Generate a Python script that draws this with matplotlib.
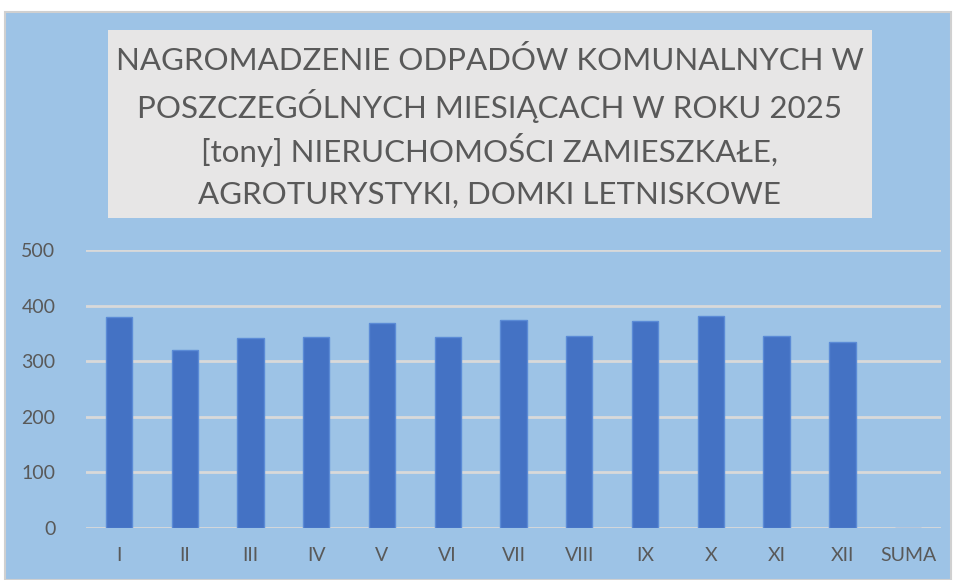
import matplotlib.pyplot as plt
from matplotlib.patches import Rectangle

miesiace = ["I", "II", "III", "IV", "V", "VI", "VII", "VIII", "IX", "X", "XI", "XII", "SUMA"]
odpady = [379, 321, 342, 344, 368, 344, 375, 346, 372, 381, 346, 335, 0]
tytul = ["NAGROMADZENIE ODPADÓW KOMUNALNYCH W",
         "POSZCZEGÓLNYCH MIESIĄCACH W ROKU 2025",
         "[tony] NIERUCHOMOŚCI ZAMIESZKAŁE,",
         "AGROTURYSTYKI, DOMKI LETNISKOWE"]

W, H = 957, 580
plt.rcParams['font.family'] = ['Lato', 'DejaVu Sans']
fig = plt.figure(figsize=(W / 100, H / 100), dpi=100)
fig.patch.set_facecolor("white")

# tlo wykresu z ramka
fig.patches.append(Rectangle((5 / W, 0), 946 / W, 1 - 12 / H, transform=fig.transFigure,
                             facecolor="#9DC3E6", edgecolor="#D0D0D0", linewidth=1.5, zorder=0))
# pole tytulu
fig.patches.append(Rectangle((108 / W, 1 - 218 / H), 764 / W, 188 / H, transform=fig.transFigure,
                             facecolor="#E7E6E6", edgecolor="none", zorder=1))
for i, linia in enumerate(tytul):
    fig.text(490 / W, 1 - (61 + i * 44.5) / H, linia, ha="center", va="center",
             fontsize=22.5, color="#595959")

ax = fig.add_axes([86 / W, 1 - 528 / H, 855 / W, 278 / H])
ax.set_zorder(5)
ax.set_facecolor("none")
x = range(len(miesiace))
ax.bar(x, odpady, width=0.4, color="#4472C4", edgecolor="#5B8BD6", linewidth=1, zorder=3)
ax.set_xlim(-0.5, len(miesiace) - 0.5)
ax.set_ylim(0, 500)
ax.set_yticks(range(0, 501, 100))
ax.set_xticks(list(x))
ax.set_xticklabels(miesiace)
ax.grid(axis="y", color="#D9D9D9", linewidth=2, zorder=1)
for s in ax.spines.values():
    s.set_visible(False)
ax.tick_params(length=0, labelsize=14, labelcolor="#595959")
ax.tick_params(axis="y", pad=22)
ax.tick_params(axis="x", pad=14)

fig.savefig("out.png", dpi=100)
